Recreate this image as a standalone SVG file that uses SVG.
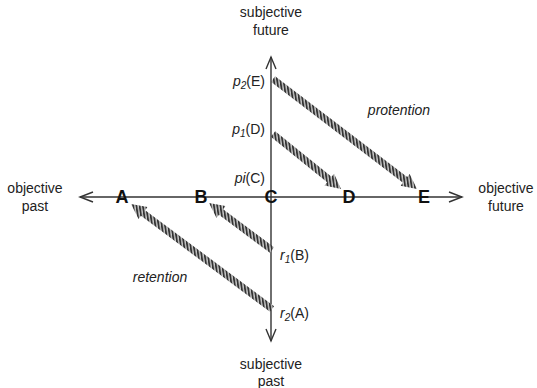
<svg xmlns="http://www.w3.org/2000/svg" width="537" height="388" viewBox="0 0 537 388">
<style>
.lbl{font-family:"Liberation Sans",Arial,sans-serif;font-size:14px;fill:#222;}
.pt{font-family:"Liberation Sans",Arial,sans-serif;font-size:18px;font-weight:bold;fill:#111;text-anchor:middle;}
.it{font-style:italic;}
.sub{font-size:10px;font-style:italic;}
.axis{stroke:#333;stroke-width:1.4;fill:none;}
.head{stroke:#333;stroke-width:1.4;fill:none;}
.ret{fill:url(#hatch);}
</style>
<defs>
<pattern id="hatch" patternUnits="userSpaceOnUse" width="3.2" height="3.2" patternTransform="rotate(-8)">
<rect width="3.2" height="3.2" fill="#c8c8c8"/>
<rect width="1.8" height="3.2" fill="#333"/>
</pattern>
</defs>
<g id="connectors">
<line class="axis" x1="80" y1="197" x2="462" y2="197"/>
<polyline class="head" points="93,192 80,197 93,202"/>
<polyline class="head" points="449,192 462,197 449,202"/>
<line class="axis" x1="271" y1="57" x2="271" y2="341"/>
<polyline class="head" points="266,69 271,57 276,69"/>
<polyline class="head" points="266,329 271,341 276,329"/>
<polygon class="ret" points="275.12,76.22 407.20,177.11 409.63,173.93 417,189 400.53,185.85 402.96,182.67 270.88,81.78"/>
<polygon class="ret" points="275.20,131.28 331.54,176.85 334.06,173.74 341,189 324.62,185.40 327.14,182.29 270.80,136.72"/>
<polygon class="ret" points="274.09,247.19 223.11,209.16 225.51,205.96 209,203 216.53,217.98 218.93,214.78 269.91,252.81"/>
<polygon class="ret" points="274.09,306.19 145.12,210.15 147.51,206.94 131,204 138.55,218.98 140.94,215.77 269.91,311.81"/>
</g>
<g id="axis-labels">
<text class="lbl" x="271" y="17" text-anchor="middle">subjective</text>
<text class="lbl" x="271" y="35" text-anchor="middle">future</text>
<text class="lbl" x="271" y="369" text-anchor="middle">subjective</text>
<text class="lbl" x="271" y="386" text-anchor="middle">past</text>
<text class="lbl" x="35" y="193" text-anchor="middle">objective</text>
<text class="lbl" x="35" y="211" text-anchor="middle">past</text>
<text class="lbl" x="506" y="193" text-anchor="middle">objective</text>
<text class="lbl" x="506" y="211" text-anchor="middle">future</text>
</g>
<g id="node-A"><text class="pt" x="122" y="203">A</text></g>
<g id="node-B"><text class="pt" x="201" y="203">B</text></g>
<g id="node-C"><text class="pt" x="271" y="203">C</text></g>
<g id="node-D"><text class="pt" x="349" y="203">D</text></g>
<g id="node-E"><text class="pt" x="424" y="203">E</text></g>
<g id="node-p2"><text class="lbl" x="265" y="86" text-anchor="end"><tspan class="it">p</tspan><tspan class="sub" dy="3">2</tspan><tspan dy="-3">(E)</tspan></text></g>
<g id="node-p1"><text class="lbl" x="265" y="134" text-anchor="end"><tspan class="it">p</tspan><tspan class="sub" dy="3">1</tspan><tspan dy="-3">(D)</tspan></text></g>
<g id="node-pi"><text class="lbl" x="265" y="183" text-anchor="end"><tspan class="it">pi</tspan>(C)</text></g>
<g id="node-r1"><text class="lbl" x="280" y="260"><tspan class="it">r</tspan><tspan class="sub" dy="3">1</tspan><tspan dy="-3">(B)</tspan></text></g>
<g id="node-r2"><text class="lbl" x="280" y="318"><tspan class="it">r</tspan><tspan class="sub" dy="3">2</tspan><tspan dy="-3">(A)</tspan></text></g>
<g id="label-protention"><text class="lbl it" x="399" y="115" text-anchor="middle">protention</text></g>
<g id="label-retention"><text class="lbl it" x="160" y="282" text-anchor="middle">retention</text></g>
</svg>
